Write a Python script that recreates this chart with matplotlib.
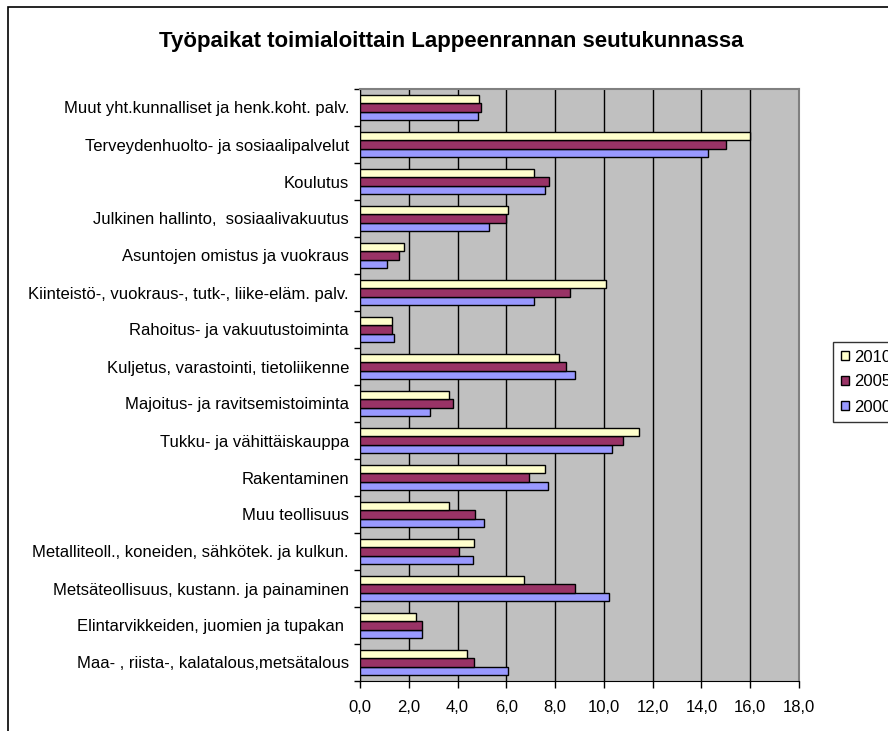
# Työpaikat toimialoittain Lappeenrannan seutukunnassa
import matplotlib.pyplot as plt
import numpy as np
from matplotlib.patches import Rectangle
from matplotlib.ticker import FuncFormatter, FixedLocator

plt.rcParams["font.family"] = ["Liberation Sans", "DejaVu Sans"]

# --- data (alhaalta ylös) ---
categories = [
    "Maa- , riista-, kalatalous,metsätalous",
    "Elintarvikkeiden, juomien ja tupakan ",
    "Metsäteollisuus, kustann. ja painaminen",
    "Metalliteoll., koneiden, sähkötek. ja kulkun.",
    "Muu teollisuus",
    "Rakentaminen",
    "Tukku- ja vähittäiskauppa",
    "Majoitus- ja ravitsemistoiminta",
    "Kuljetus, varastointi, tietoliikenne",
    "Rahoitus- ja vakuutustoiminta",
    "Kiinteistö-, vuokraus-, tutk-, liike-eläm. palv.",
    "Asuntojen omistus ja vuokraus",
    "Julkinen hallinto,  sosiaalivakuutus",
    "Koulutus",
    "Terveydenhuolto- ja sosiaalipalvelut",
    "Muut yht.kunnalliset ja henk.koht. palv.",
]
v2000 = [6.08, 2.53, 10.22, 4.62, 5.07, 7.70, 10.34, 2.87, 8.83, 1.41, 7.13, 1.12, 5.30, 7.60, 14.28, 4.84]
v2005 = [4.67, 2.53, 8.83, 4.04, 4.73, 6.91, 10.79, 3.83, 8.43, 1.30, 8.60, 1.58, 5.97, 7.76, 15.01, 4.95]
v2010 = [4.39, 2.31, 6.73, 4.67, 3.66, 7.60, 11.46, 3.66, 8.16, 1.30, 10.10, 1.80, 6.07, 7.13, 16.00, 4.89]
years = ["2010", "2005", "2000"]
colors = {"2010": "#FFFFCC", "2005": "#993366", "2000": "#9999FF"}

W, H = 888, 731
fig = plt.figure(figsize=(W / 100, H / 100), dpi=100)
ax = fig.add_axes([360 / W, 1 - 681 / H, 439 / W, 592 / H])
ax.set_facecolor("#C0C0C0")

y = np.arange(len(categories))
bh = 0.225
bars = {}
bars["2000"] = ax.barh(y - bh, v2000, height=bh, color=colors["2000"], edgecolor="black", linewidth=1, zorder=3)
bars["2005"] = ax.barh(y, v2005, height=bh, color=colors["2005"], edgecolor="black", linewidth=1, zorder=3)
bars["2010"] = ax.barh(y + bh, v2010, height=bh, color=colors["2010"], edgecolor="black", linewidth=1, zorder=3)

ax.set_xlim(0, 18)
ax.set_ylim(-0.5, len(categories) - 0.5)
ax.set_xticks(np.arange(0, 19, 2))
ax.xaxis.set_major_formatter(FuncFormatter(lambda v, p: f"{v:.1f}".replace(".", ",")))
ax.grid(axis="x", color="black", linewidth=1, zorder=1)
ax.tick_params(axis="x", direction="out", length=5, width=1, labelsize=12, pad=9)

ax.set_yticks(y)
ax.set_yticklabels(categories, fontsize=12)
ax.tick_params(axis="y", which="major", length=0, pad=8)
ax.yaxis.set_minor_locator(FixedLocator(np.arange(-0.5, len(categories), 1.0)))
ax.tick_params(axis="y", which="minor", direction="out", length=4, width=1)

for s in ["top", "right"]:
    ax.spines[s].set_color("#808080")
    ax.spines[s].set_linewidth(1.5)
ax.spines["left"].set_color("black")
ax.spines["bottom"].set_color("black")

# otsikko
fig.text(451 / W, 1 - 42 / H, "Työpaikat toimialoittain Lappeenrannan seutukunnassa",
         ha="center", va="center", fontsize=16, fontweight="bold")

# legenda
leg = fig.legend([bars[k] for k in years], years, loc="upper left",
                 bbox_to_anchor=(833 / W, 1 - 342 / H), fontsize=12,
                 frameon=True, fancybox=False, edgecolor="black",
                 handlelength=0.5, handleheight=0.5, handletextpad=0.3,
                 labelspacing=0.6, borderpad=0.45, borderaxespad=0)
leg.get_frame().set_linewidth(1)

# kehys
fig.patches.append(Rectangle((8 / W, -0.1), 1.2, 1 - 7 / H + 0.1, transform=fig.transFigure,
                             fill=False, edgecolor="black", linewidth=1.2, figure=fig))

fig.savefig("out.png", dpi=100)
